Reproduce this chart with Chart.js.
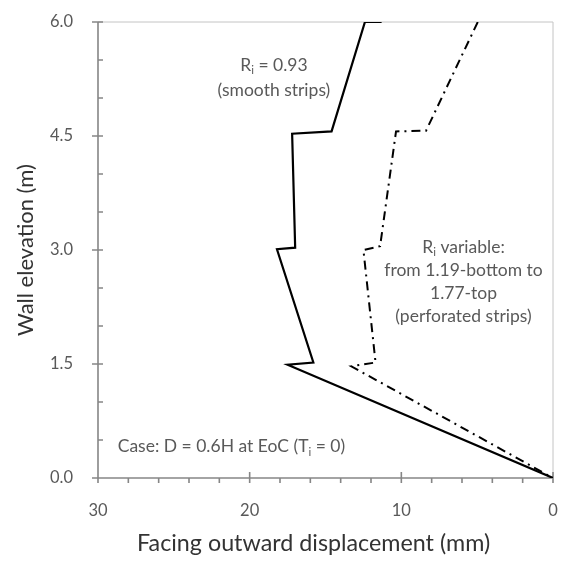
<!DOCTYPE html>
<html>
<head>
<meta charset="utf-8">
<script src="https://cdn.jsdelivr.net/npm/chart.js@4.4.1/dist/chart.umd.min.js"></script>
<style>
  html, body { margin: 0; padding: 0; background: #fff; }
  #wrap { width: 573px; height: 566px; }
</style>
</head>
<body>
<div id="wrap"><canvas id="chart"></canvas></div>
<script>
// displacement (mm) vs wall elevation (m)
const smoothX = [11.3, 12.4, 14.6, 17.2, 17.0, 18.2, 15.8, 17.5, 0];
const smoothY = [6.0, 6.0, 4.56, 4.53, 3.03, 3.01, 1.52, 1.49, 0];
const perfX = [4.96, 8.37, 10.35, 11.4, 12.5, 11.7, 13.3, 0];
const perfY = [6.0, 4.57, 4.56, 3.05, 3.0, 1.52, 1.47, 0];

const xTicks = [0, 10, 20, 30];
const yTicks = [0, 1.5, 3.0, 4.5, 6.0];

// text notes: [x value, y value, align, parts]
const notes = [
    [18.4, 5.43, 'center', [['R'], ['i', 1], [' = 0.93']]],
    [18.4, 5.10, 'center', [['(smooth strips)']]],
    [5.9, 3.03, 'center', [['R'], ['i', 1], [' variable:']]],
    [5.9, 2.73, 'center', [['from 1.19-bottom to']]],
    [5.9, 2.43, 'center', [['1.77-top']]],
    [5.9, 2.13, 'center', [['(perforated strips)']]],
    [28.7, 0.41, 'left', [['Case: D = 0.6H at EoC (T'], ['i', 1], [' = 0)']]]
];

const FONT = 'Lato, "Open Sans", sans-serif';
const toPoints = (xs, ys) => xs.map((x, i) => ({ x: x, y: ys[i] }));

const frame = {
    id: 'frame',
    beforeDatasetsDraw(chart) {
        const { ctx, chartArea: a, scales: { x, y } } = chart;
        ctx.save();
        ctx.strokeStyle = '#c4c4c4';
        ctx.lineWidth = 1;
        ctx.beginPath();
        ctx.moveTo(a.left, a.top);
        ctx.lineTo(a.right, a.top);
        ctx.lineTo(a.right, a.bottom);
        ctx.stroke();

        ctx.strokeStyle = '#868686';
        ctx.lineWidth = 1.6;
        ctx.beginPath();
        ctx.moveTo(a.left, a.top);
        ctx.lineTo(a.left, a.bottom);
        ctx.lineTo(a.right, a.bottom);
        // x ticks: major cross, minor outside
        for (let v = 0; v <= 30; v += 2) {
            const px = x.getPixelForValue(v);
            const major = v % 10 === 0;
            ctx.moveTo(px, a.bottom + 5);
            ctx.lineTo(px, major ? a.bottom - 6 : a.bottom);
        }
        // y ticks: major cross, minor inside
        for (let k = 0; k <= 12; k++) {
            const py = y.getPixelForValue(k * 0.5);
            const major = k % 3 === 0;
            ctx.moveTo(a.left + 5, py);
            ctx.lineTo(major ? a.left - 6 : a.left, py);
        }
        ctx.stroke();
        ctx.restore();
    },
    afterDraw(chart) {
        const { ctx, scales: { x, y } } = chart;
        ctx.save();
        ctx.fillStyle = '#595959';
        ctx.textBaseline = 'middle';
        const big = '17.5px ' + FONT, small = '11.5px ' + FONT;
        notes.forEach(([vx, vy, align, parts]) => {
            let w = 0;
            parts.forEach(p => { ctx.font = p[1] ? small : big; w += ctx.measureText(p[0]).width; });
            let px = x.getPixelForValue(vx);
            const py = y.getPixelForValue(vy);
            if (align === 'center') px -= w / 2;
            ctx.textAlign = 'left';
            parts.forEach(p => {
                ctx.font = p[1] ? small : big;
                ctx.fillText(p[0], px, p[1] ? py + 5 : py);
                px += ctx.measureText(p[0]).width;
            });
        });
        ctx.restore();
    }
};

new Chart(document.getElementById('chart'), {
    type: 'scatter',
    data: {
        datasets: [
            {
                label: 'smooth strips',
                data: toPoints(smoothX, smoothY),
                showLine: true,
                borderColor: '#000',
                borderWidth: 2.2,
                pointRadius: 0,
                borderJoinStyle: 'miter',
                fill: false
            },
            {
                label: 'perforated strips',
                data: toPoints(perfX, perfY),
                showLine: true,
                borderColor: '#000',
                borderWidth: 2,
                borderDash: [9, 5, 2, 5],
                pointRadius: 0,
                fill: false
            }
        ]
    },
    options: {
        responsive: true,
        maintainAspectRatio: false,
        animation: false,
        layout: { padding: { top: 22, right: 20, left: 0, bottom: 0 } },
        plugins: { legend: { display: false }, tooltip: { enabled: false } },
        scales: {
            x: {
                type: 'linear',
                reverse: true,
                min: 0,
                max: 30,
                afterBuildTicks: s => { s.ticks = xTicks.map(v => ({ value: v })); },
                afterFit: s => { s.height = 88; },
                grid: { display: false },
                border: { display: false },
                ticks: { color: '#595959', font: { family: FONT, size: 16.5 }, padding: 15 },
                title: {
                    display: true,
                    text: 'Facing outward displacement (mm)    ',
                    color: '#333',
                    font: { family: FONT, size: 23.3 },
                    padding: { top: 0, bottom: 9 }
                }
            },
            y: {
                type: 'linear',
                min: 0,
                max: 6,
                afterBuildTicks: s => { s.ticks = yTicks.map(v => ({ value: v })); },
                afterFit: s => { s.width = 98; s.paddingTop = 10; s.paddingBottom = 10; },
                grid: { display: false },
                border: { display: false },
                ticks: {
                    color: '#595959',
                    font: { family: FONT, size: 16.5 },
                    padding: 17,
                    callback: v => v.toFixed(1)
                },
                title: {
                    display: true,
                    text: 'Wall elevation (m)',
                    color: '#333',
                    font: { family: FONT, size: 22 },
                    padding: { top: 13, bottom: 0 }
                }
            }
        }
    },
    plugins: [frame]
});
</script>
</body>
</html>
